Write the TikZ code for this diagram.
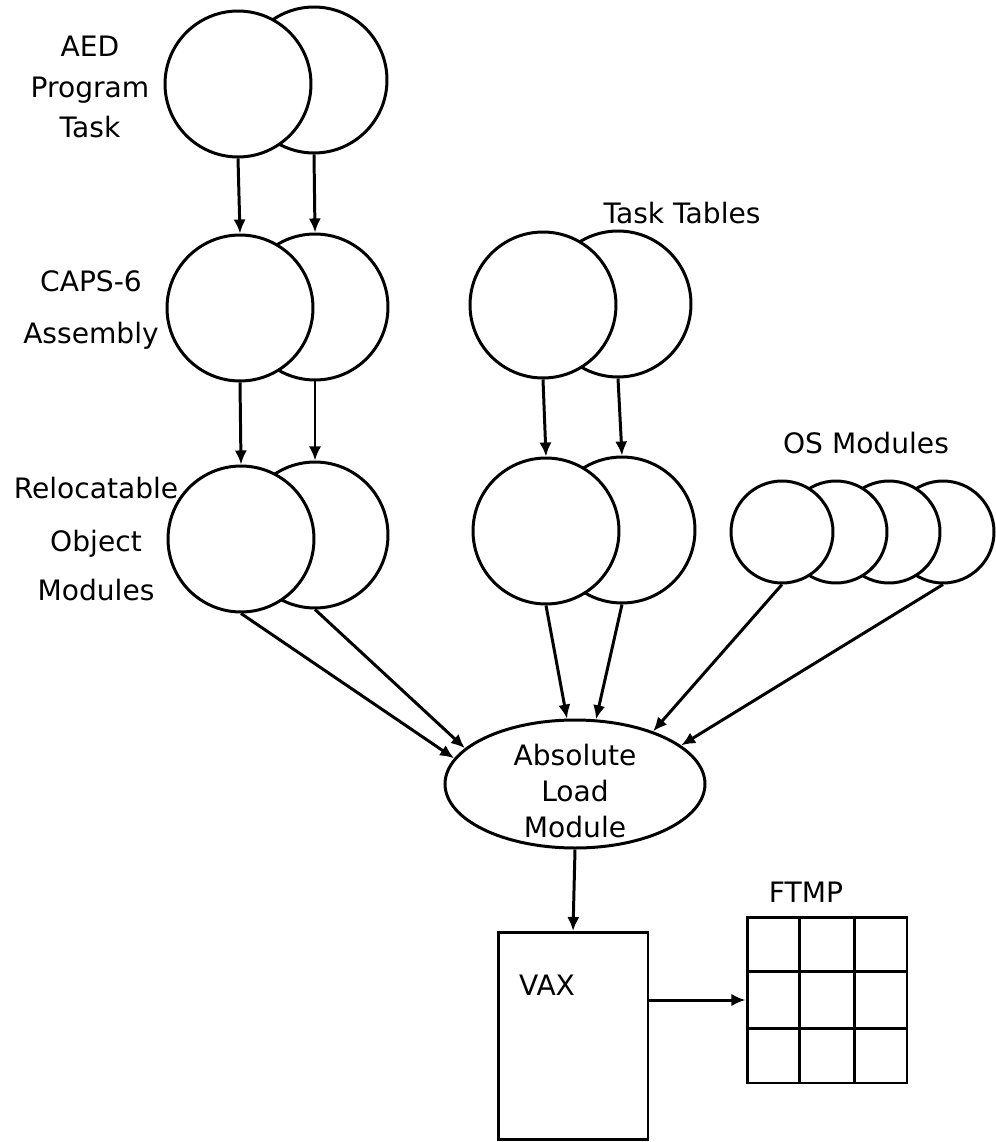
\documentclass[tikz,border=0pt]{standalone}
\usepackage{fontspec}
\setmainfont{DejaVu Sans}
\usetikzlibrary{positioning,shapes,arrows.meta,calc}
\tikzset{>={Latex[length=8pt,width=7pt]}}

\begin{document}
\begin{tikzpicture}[x=0.02cm, y=-0.02cm, line width=1.7pt,
    disk/.style={circle, draw, fill=white, minimum size=2.92cm, inner sep=0pt},
    smalldisk/.style={circle, draw, fill=white, minimum size=2.04cm, inner sep=0pt},
    caption/.style={align=center, font=\fontsize{16}{23}\selectfont, inner sep=0pt}]
  \useasboundingbox (0,0) rectangle (996,1142);

  % source pairs, the right one lies behind
  \node[disk] (aedR) at (314,80) {};
  \node[disk] (aedL) at (238,84) {};
  \node[disk] (capsR) at (315,307) {};
  \node[disk] (capsL) at (240,308) {};
  \node[disk] (relR) at (315,535) {};
  \node[disk] (relL) at (241,539) {};
  \node[disk] (tblR) at (618,304) {};
  \node[disk] (tblL) at (543,305) {};
  \node[disk] (tbltwoR) at (622,530) {};
  \node[disk] (tbltwoL) at (546,531) {};

  % OS modules, back to front
  \node[smalldisk] (os4) at (943,532) {};
  \node[smalldisk] (os3) at (889,532) {};
  \node[smalldisk] (os2) at (836,532) {};
  \node[smalldisk] (os1) at (782,532) {};

  \node[caption] (aedtxt) at (90,87) {AED\\Program\\Task};
  \node[caption] (capstxt) at (91,310) {CAPS-6\\[7pt]Assembly};
  \node[caption] (reltxt) at (96,539) {Relocatable\\[7pt]Object\\[5pt]Modules};
  \node[caption] (tbltxt) at (682,213) {Task Tables};
  \node[caption] (ostxt) at (866,443) {OS Modules};

  % load module, VAX and FTMP
  \node[draw, ellipse, minimum width=5.2cm, minimum height=2.56cm, inner sep=0pt] (load) at (575,784) {};
  \node[caption] (loadtxt) at (575,791) {Absolute\\[-2.5pt]Load\\[-2.5pt]Module};
  \node[draw, minimum width=3cm, minimum height=4.14cm, inner sep=0pt] (vax) at (573,1036) {};
  \node[caption] (vaxtxt) at (547,985) {VAX};
  \node[draw, minimum width=3.2cm, minimum height=3.32cm, inner sep=0pt] (ftmp) at (827,1000) {};
  \node[caption] (ftmptxt) at (806,892) {FTMP};
  \foreach \i in {1,2}{
    \draw ($(ftmp.north west)!\i/3!(ftmp.north east)$) -- ($(ftmp.south west)!\i/3!(ftmp.south east)$);
    \draw ($(ftmp.north west)!\i/3!(ftmp.south west)$) -- ($(ftmp.north east)!\i/3!(ftmp.south east)$);
  }

  \draw[->] (aedL.south) -- (capsL.north);
  \draw[->] (aedR.south) -- (capsR.north);
  \draw[->] (capsL.south) -- (relL.north);
  \draw[->] (capsR.south) -- (relR.north);
  \draw[->] (tblL.south) -- (tbltwoL.north);
  \draw[->] (tblR.south) -- (tbltwoR.north);
  \draw[->] (relL.south) -- (load.168);
  \draw[->] (relR.south) -- (load.162);
  \draw[->] (tbltwoL.south) -- (load.97);
  \draw[->] (tbltwoR.south) -- (load.72);
  \draw[->] (os1.south) -- (load.34);
  \draw[->] (os4.south) -- (load.20);
  \draw[->] (load.south) -- (vax.north);
  \draw[->] (vax.east |- ftmp.west) -- (ftmp.west);
\end{tikzpicture}
\end{document}
